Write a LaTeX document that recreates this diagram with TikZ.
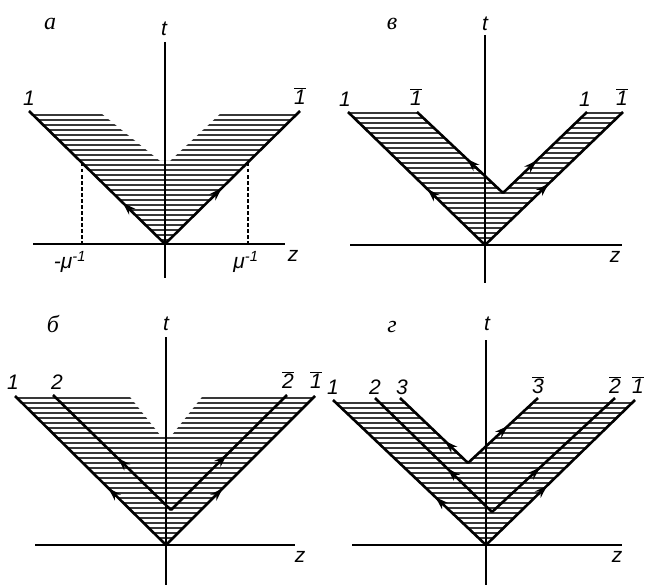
\documentclass[tikz,border=0pt]{standalone}
\usepackage{fontspec}
\setmainfont{Liberation Sans}
\newfontfamily\cyrfont{Liberation Serif}
\usetikzlibrary{decorations.markings,arrows.meta}
\newcommand{\ob}[1]{$\overline{\mbox{#1}}$}
\tikzset{
 ray/.style={line width=2.6pt},
 axis/.style={line width=1.7pt},
 hatch/.style={line width=2.3pt, black!78},
 lbl/.style={font=\fontsize{21}{24}\selectfont\itshape, inner sep=0pt},
 plbl/.style={font=\fontsize{24}{26}\selectfont\cyrfont\itshape, inner sep=0pt},
 arr/.style={postaction={decorate}, decoration={markings, mark=at position #1 with {\arrow{Stealth[length=13pt,width=8.5pt]}}}},
 dsh/.style={line width=1.3pt, dash pattern=on 3.5pt off 2.5pt},
}
\begin{document}
\begin{tikzpicture}[x=1pt,y=-1pt]
\useasboundingbox (0,0) rectangle (647,588);
\fill[white] (0,0) rectangle (647,588);

%% ---------- panel a ----------
\coordinate (Oa) at (165,244);
\coordinate (La) at (29,111);
\coordinate (Ra) at (300,111);
\begin{scope}
\clip (Oa) -- (32,114) -- (102,114) -- (160,161) -- (170,161) -- (220,114) -- (298,114) -- cycle;
\foreach \yy in {115,120,...,245} \draw[hatch] (20,\yy) -- (310,\yy);
\end{scope}
\draw[axis] (165,42) -- (165,278);
\draw[axis] (33,244) -- (285,244);
\draw[dsh] (82,163) -- (82,244);
\draw[dsh] (248,163) -- (248,244);
\draw[ray, arr=0.31] (Oa) -- (La);
\draw[ray, arr=0.42] (Oa) -- (Ra);
\node[plbl] (pa) at (50,24) {а};
\node[lbl] (ta) at (164,29) {t};
\node[lbl] (za) at (293,256) {z};
\node[lbl] (a1) at (29,98) {1};
\node[lbl] (a1b) at (300,96) {\ob{1}};
\node[lbl] (mu1) at (70,262) {-μ\textsuperscript{-1}};
\node[lbl] (mu2) at (246,262) {μ\textsuperscript{-1}};

%% ---------- panel v ----------
\coordinate (Ov) at (485,245);
\coordinate (Lv) at (348,112);
\coordinate (Rv) at (623,112);
\coordinate (Av) at (503,193);
\coordinate (ILv) at (417,112);
\coordinate (IRv) at (587,112);
\begin{scope}
\clip (Ov) -- (Lv) -- (ILv) -- (Av) -- (IRv) -- (Rv) -- cycle;
\foreach \yy in {113,118,...,248} \draw[hatch] (340,\yy) -- (630,\yy);
\end{scope}
\draw[axis] (485,35) -- (485,283);
\draw[axis] (350,245) -- (622,245);
\draw[ray, arr=0.42] (Ov) -- (Lv);
\draw[ray, arr=0.46] (Ov) -- (Rv);
\draw[ray, arr=0.42] (Av) -- (ILv);
\draw[ray, arr=0.40] (Av) -- (IRv);
\node[plbl] (pv) at (392,24) {в};
\node[lbl] (tv) at (485,24) {t};
\node[lbl] (zv) at (615,257) {z};
\node[lbl] (v1) at (345,99) {1};
\node[lbl] (v1b) at (416,97) {\ob{1}};
\node[lbl] (v1r) at (585,99) {1};
\node[lbl] (v1rb) at (622,97) {\ob{1}};

%% ---------- panel b ----------
\coordinate (Ob) at (166,545);
\coordinate (Lb) at (15,396);
\coordinate (Rb) at (315,396);
\coordinate (Bb) at (171,510);
\coordinate (ILb) at (53,395);
\coordinate (IRb) at (287,395);
\begin{scope}
\clip (Ob) -- (16,397) -- (130,397) -- (160,435) -- (172,435) -- (202,397) -- (314,397) -- cycle;
\foreach \yy in {398,403,...,548} \draw[hatch] (10,\yy) -- (320,\yy);
\end{scope}
\draw[axis] (166,337) -- (166,585);
\draw[axis] (35,545) -- (295,545);
\draw[ray, arr=0.38] (Ob) -- (Lb);
\draw[ray, arr=0.38] (Ob) -- (Rb);
\draw[ray, arr=0.45] (Bb) -- (ILb);
\draw[ray, arr=0.48] (Bb) -- (IRb);
\node[plbl] (pb) at (53,324) {б};
\node[lbl] (tb) at (166,324) {t};
\node[lbl] (zb) at (300,557) {z};
\node[lbl] (b1) at (13,382) {1};
\node[lbl] (b2) at (57,382) {2};
\node[lbl] (b2b) at (288,380) {\ob{2}};
\node[lbl] (b1b) at (316,380) {\ob{1}};

%% ---------- panel g ----------
\coordinate (Og) at (486,545);
\coordinate (Lg) at (333,400);
\coordinate (Rg) at (635,400);
\coordinate (Cg) at (492,512);
\coordinate (L2g) at (375,398);
\coordinate (R2g) at (615,398);
\coordinate (Dg) at (468,463);
\coordinate (L3g) at (400,398);
\coordinate (R3g) at (538,398);
\begin{scope}
\clip (Og) -- (335,402) -- (404,402) -- (Dg) -- (534,402) -- (633,402) -- cycle;
\foreach \yy in {403,408,...,548} \draw[hatch] (330,\yy) -- (640,\yy);
\end{scope}
\draw[axis] (486,340) -- (486,585);
\draw[axis] (352,545) -- (622,545);
\draw[ray, arr=0.33] (Og) -- (Lg);
\draw[ray, arr=0.41] (Og) -- (Rg);
\draw[ray, arr=0.38] (Cg) -- (L2g);
\draw[ray, arr=0.39] (Cg) -- (R2g);
\draw[ray, arr=0.34] (Dg) -- (L3g);
\draw[ray, arr=0.57] (Dg) -- (R3g);
\node[plbl] (pg) at (392,327) {г};
\node[lbl] (tg) at (487,324) {t};
\node[lbl] (zg) at (617,557) {z};
\node[lbl] (g1) at (333,387) {1};
\node[lbl] (g2) at (375,387) {2};
\node[lbl] (g3) at (402,387) {3};
\node[lbl] (g3b) at (538,385) {\ob{3}};
\node[lbl] (g2b) at (615,385) {\ob{2}};
\node[lbl] (g1b) at (638,385) {\ob{1}};
\end{tikzpicture}
\end{document}
